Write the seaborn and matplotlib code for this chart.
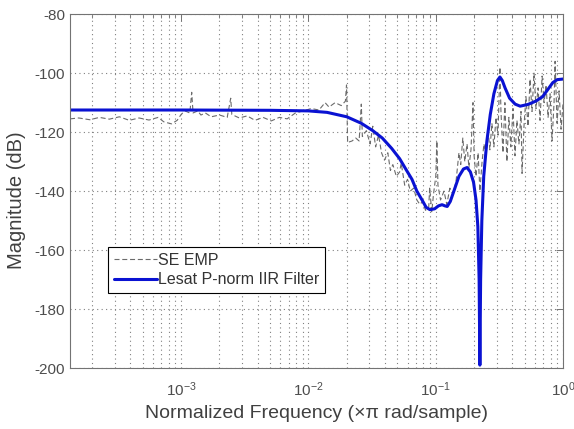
import numpy as np
import pandas as pd
import matplotlib
matplotlib.use("Agg")
import matplotlib.pyplot as plt
import seaborn as sns

# ---- data ----
emp_freq = [1.34e-4, 1.57e-4, 1.92e-4, 2.28e-4, 2.73e-4, 3.27e-4, 3.91e-4, 4.67e-4, 5.59e-4, 6.6e-4,
            7.3e-4, 8.4e-4, 9.3e-4, 1.0e-3, 1.07e-3, 1.17e-3, 1.21e-3, 1.24e-3, 1.35e-3, 1.43e-3,
            1.55e-3, 1.72e-3, 2.0e-3, 2.3e-3, 2.45e-3, 2.5e-3, 2.86e-3, 3.3e-3, 3.8e-3, 4.4e-3,
            5.1e-3, 5.9e-3, 6.8e-3, 7.9e-3, 9.1e-3, 1.05e-2, 1.21e-2, 1.35e-2, 1.45e-2, 1.62e-2,
            1.81e-2, 1.95e-2, 1.99e-2, 2.03e-2, 2.2e-2, 2.35e-2, 2.5e-2, 2.6e-2, 2.65e-2, 2.85e-2,
            3.05e-2, 3.2e-2, 3.37e-2, 3.55e-2, 3.75e-2, 3.95e-2, 4.2e-2, 4.4e-2, 4.6e-2, 4.9e-2,
            5.2e-2, 5.35e-2, 5.7e-2, 6.0e-2, 6.3e-2, 6.7e-2, 7.1e-2, 7.5e-2, 7.9e-2, 8.3e-2,
            8.8e-2, 8.95e-2, 9.3e-2, 9.6e-2, 1.0e-1, 1.02e-1, 1.04e-1, 1.09e-1, 1.16e-1, 1.22e-1,
            1.29e-1, 1.36e-1, 1.44e-1, 1.52e-1, 1.57e-1, 1.63e-1, 1.69e-1, 1.76e-1, 1.82e-1, 1.89e-1,
            1.96e-1, 2.0e-1, 2.07e-1, 2.15e-1, 2.22e-1, 2.31e-1, 2.39e-1, 2.48e-1, 2.57e-1, 2.66e-1,
            2.76e-1, 2.86e-1, 2.97e-1, 3.08e-1, 3.19e-1, 3.25e-1, 3.37e-1, 3.49e-1, 3.62e-1, 3.75e-1,
            3.89e-1, 4.04e-1, 4.19e-1, 4.34e-1, 4.5e-1, 4.67e-1, 4.76e-1, 4.93e-1, 5.11e-1, 5.3e-1,
            5.5e-1, 5.7e-1, 5.91e-1, 6.13e-1, 6.36e-1, 6.59e-1, 6.84e-1, 7.09e-1, 7.35e-1, 7.62e-1,
            7.9e-1, 8.19e-1, 8.49e-1, 8.65e-1, 8.97e-1, 9.3e-1, 9.64e-1, 1.0]
emp_db = [-115.5, -115.2, -115.8, -115.0, -115.6, -114.8, -116.0, -115.2, -115.9, -115.0,
          -116.5, -117.2, -116.0, -114.0, -112.8, -113.5, -106.5, -113.5, -112.8, -114.2,
          -113.5, -114.8, -114.2, -115.0, -108.5, -114.0, -115.2, -114.5, -116.0, -115.0,
          -116.2, -115.0, -115.5, -113.5, -112.8, -112.0, -112.5, -110.0, -111.5, -110.0,
          -111.0, -109.5, -104.0, -123.5, -123.0, -122.0, -123.0, -110.5, -121.5, -119.5,
          -124.0, -118.0, -125.0, -121.0, -127.0, -129.5, -127.0, -133.0, -131.0, -135.0,
          -133.5, -130.5, -138.0, -136.0, -140.0, -139.0, -143.0, -144.5, -143.5, -146.5,
          -145.5, -139.0, -147.0, -141.0, -135.0, -123.0, -138.0, -143.0, -140.0, -144.5,
          -139.0, -141.0, -137.0, -127.0, -131.0, -122.0, -130.0, -124.0, -132.0, -126.0,
          -110.0, -128.0, -135.0, -127.0, -140.0, -130.0, -124.0, -128.0, -119.0, -126.0,
          -117.0, -125.0, -115.0, -121.0, -98.0, -113.0, -127.0, -110.0, -130.0, -115.0,
          -125.0, -112.0, -128.0, -116.0, -124.0, -113.0, -134.0, -118.0, -108.0, -118.0,
          -102.0, -113.0, -100.0, -112.0, -105.0, -116.0, -101.0, -110.0, -104.0, -115.0,
          -107.0, -123.0, -110.0, -96.0, -117.0, -106.0, -119.0, -110.0]

iir_freq = [1.34e-4, 1e-3, 5e-3, 1e-2, 1.4e-2, 2.0e-2, 2.6e-2, 3.2e-2, 3.8e-2, 4.5e-2,
            5.2e-2, 5.9e-2, 6.5e-2, 7.1e-2, 7.8e-2, 8.4e-2, 9.0e-2, 9.8e-2, 1.05e-1, 1.12e-1,
            1.18e-1, 1.23e-1, 1.30e-1, 1.40e-1, 1.52e-1, 1.65e-1, 1.76e-1, 1.87e-1, 1.98e-1, 2.07e-1,
            2.14e-1, 2.19e-1, 2.22e-1, 2.25e-1, 2.30e-1, 2.38e-1, 2.52e-1, 2.68e-1, 2.86e-1, 3.05e-1,
            3.19e-1, 3.33e-1, 3.5e-1, 3.8e-1, 4.2e-1, 4.6e-1, 5.3e-1, 6.1e-1, 6.9e-1, 7.6e-1,
            8.3e-1, 9.0e-1, 1.0]
iir_db = [-112.5, -112.5, -112.6, -112.8, -113.3, -114.8, -117.0, -119.5, -122.0, -125.5,
          -129.0, -133.0, -136.0, -140.0, -143.0, -145.5, -146.3, -146.0, -145.0, -144.6,
          -145.0, -145.2, -143.5, -139.5, -135.0, -132.5, -132.0, -133.5, -137.0, -143.0,
          -152.0, -170.0, -199.0, -170.0, -150.0, -135.0, -123.0, -114.0, -107.0, -102.5,
          -101.3, -102.5, -105.0, -108.5, -110.5, -111.2, -110.6, -109.5, -108.0, -105.5,
          -103.2, -102.2, -102.0]

y_ticks = [-200, -180, -160, -140, -120, -100, -80]

emp_df = pd.DataFrame({"freq": emp_freq, "db": emp_db})
iir_df = pd.DataFrame({"freq": iir_freq, "db": iir_db})

# ---- style ----
sns.set_style("white")
plt.rcParams["font.family"] = ["Liberation Sans", "DejaVu Sans"]
plt.rcParams["mathtext.fontset"] = "custom"
plt.rcParams["mathtext.rm"] = "Liberation Sans"
plt.rcParams["mathtext.it"] = "Liberation Sans:italic"
plt.rcParams["mathtext.default"] = "regular"
plt.rcParams["axes.unicode_minus"] = False

fig = plt.figure(figsize=(5.74, 4.29), dpi=100)
ax = fig.add_axes([0.122, 0.142, 0.859, 0.825])

sns.lineplot(data=emp_df, x="freq", y="db", ax=ax, color="0.42", linestyle=(0, (4.5, 2.5)),
             linewidth=0.8, label="SE EMP", sort=False, estimator=None)
sns.lineplot(data=iir_df, x="freq", y="db", ax=ax, color="#0a12d2", linewidth=2.2,
             label="Lesat P-norm IIR Filter", sort=False, estimator=None)

ax.set_xscale("log")
ax.set_xlim(1.34e-4, 1.0)
ax.set_ylim(-200, -80)
ax.set_yticks(y_ticks)
ax.set_yticklabels([str(v) for v in y_ticks])

grid_kw = dict(linestyle=(0, (1, 3)), color="0.5", linewidth=0.8)
ax.grid(True, which="major", axis="both", **grid_kw)
ax.grid(True, which="minor", axis="x", **grid_kw)

for s in ax.spines.values():
    s.set_color("0.45")
    s.set_linewidth(0.8)

ax.tick_params(which="both", direction="in", top=True, right=True, colors="0.45",
               labelcolor="0.3", labelsize=11)
ax.tick_params(which="major", length=5, width=0.7)
ax.tick_params(which="minor", length=3, width=0.6)
ax.tick_params(axis="x", which="major", pad=9, labelsize=11)

ax.set_xlabel("Normalized Frequency (\u00d7\u03c0 rad/sample)", fontsize=14, color="0.25", labelpad=4)
ax.set_ylabel("Magnitude (dB)", fontsize=14.5, color="0.25")
ax.yaxis.set_label_coords(-0.09, 0.475)

leg = ax.legend(loc="lower left", bbox_to_anchor=(0.077, 0.212), fontsize=11.5,
                frameon=True, fancybox=False, framealpha=1, edgecolor="black",
                handlelength=2.7, borderpad=0.35, labelspacing=0.3, handletextpad=0.1,
                borderaxespad=0)
leg.get_frame().set_linewidth(0.8)
for t in leg.get_texts():
    t.set_color("0.2")

fig.savefig("out.png", dpi=100)
